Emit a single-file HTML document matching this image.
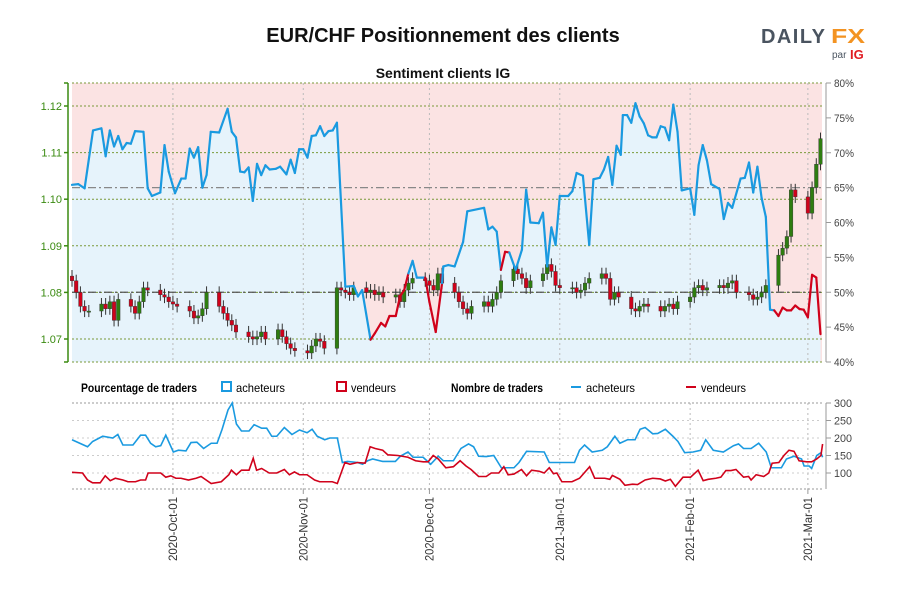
<!DOCTYPE html>
<html><head><meta charset="utf-8"><style>
body{margin:0;background:#fff;width:900px;height:600px;overflow:hidden}
svg text{font-family:"Liberation Sans",sans-serif}
</style></head><body>
<svg id="c" width="900" height="600" xmlns="http://www.w3.org/2000/svg">
<text x="443" y="42" text-anchor="middle" font-size="20" font-weight="bold" fill="#111">EUR/CHF Positionnement des clients</text>
<g>
<text x="761" y="43" font-size="20" font-weight="bold" fill="#4a5460" textLength="64" lengthAdjust="spacing">DAILY</text>
<text x="831" y="43" font-size="20" font-weight="bold" fill="#f39322" textLength="34" lengthAdjust="spacingAndGlyphs">FX</text>
<text x="832" y="58" font-size="10" fill="#4a5460">par</text>
<text x="850" y="59" font-size="13" font-weight="bold" fill="#e01b22">IG</text>
</g>
<text x="443" y="78" text-anchor="middle" font-size="14" font-weight="bold" fill="#111">Sentiment clients IG</text>
<g id="main"></g>
<g id="legend" font-size="12">
<text x="81" y="392" font-weight="bold" textLength="116" lengthAdjust="spacingAndGlyphs">Pourcentage de traders</text>
<rect x="222" y="382" width="9" height="9" fill="none" stroke="#1a9ae0" stroke-width="2"/>
<text x="236" y="392" textLength="49" lengthAdjust="spacingAndGlyphs">acheteurs</text>
<rect x="337" y="382" width="9" height="9" fill="none" stroke="#d0021b" stroke-width="2"/>
<text x="351" y="392" textLength="45" lengthAdjust="spacingAndGlyphs">vendeurs</text>
<text x="451" y="392" font-weight="bold" textLength="92" lengthAdjust="spacingAndGlyphs">Nombre de traders</text>
<line x1="571" y1="387" x2="581" y2="387" stroke="#1a9ae0" stroke-width="2"/>
<text x="586" y="392" textLength="49" lengthAdjust="spacingAndGlyphs">acheteurs</text>
<line x1="686" y1="387" x2="696" y2="387" stroke="#d0021b" stroke-width="2"/>
<text x="701" y="392" textLength="45" lengthAdjust="spacingAndGlyphs">vendeurs</text>
</g>
<g id="bot"></g>
</svg>
<script>
const monthLabels=["2020-Oct-01","2020-Nov-01","2020-Dec-01","2021-Jan-01","2021-Feb-01","2021-Mar-01"];
const monthDays=[24,55,85,116,147,175];
const pctTicks=[80,75,70,65,60,55,50,45,40];
const priceTicks=[1.07,1.08,1.09,1.10,1.11,1.12];
const countTicks=[300,250,200,150,100];
const closes=[1.0825,1.0800,1.0770,1.0760,1.0760,1.0775,1.0765,1.0780,1.0740,1.0785,1.0770,1.0755,1.0780,1.0810,1.0805,1.0795,1.0790,1.0780,1.0775,1.0770,1.0760,1.0745,1.0750,1.0765,1.0800,1.0770,1.0755,1.0740,1.0730,1.0715,1.0705,1.0700,1.0705,1.0715,1.0700,1.0720,1.0705,1.0690,1.0680,1.0675,1.0670,1.0685,1.0700,1.0695,1.0680,1.0810,1.0805,1.0800,1.0795,1.0810,1.0800,1.0805,1.0795,1.0800,1.0790,1.0795,1.0780,1.0805,1.0820,1.0830,1.0825,1.0815,1.0805,1.0840,1.0820,1.0800,1.0780,1.0765,1.0755,1.0770,1.0780,1.0770,1.0785,1.0800,1.0825,1.0850,1.0840,1.0830,1.0810,1.0825,1.0840,1.0860,1.0845,1.0815,1.0810,1.0810,1.0800,1.0805,1.0820,1.0830,1.0840,1.0830,1.0785,1.0800,1.0790,1.0765,1.0760,1.0770,1.0775,1.0770,1.0760,1.0770,1.0775,1.0765,1.0780,1.0790,1.0810,1.0815,1.0805,1.0810,1.0815,1.0810,1.0820,1.0825,1.0800,1.0795,1.0785,1.0790,1.0800,1.0815,1.0880,1.0895,1.0920,1.1020,1.1005,1.0970,1.1025,1.1075,1.1130];
const firstOpen=1.0835;
const sentDays=[0,1.5,3,5,7,8,9,10,11,12,13,14,15,17,18,19,21,22,23,24.5,26,27,28,29,30,31,32,33,35,37,38,39,40,41,42,43,44,45,46,47,48.5,49.5,51,52,53,54,55,56,57,58,59,60,61,62,63,65,67,68,69,71,72,73.5,74.5,75.5,77,78,79,80,81,82,84,85,86.5,88,88.3,89.5,91,93,94,98,99,100,101,102,103,104,105.5,107,108,109,111,112,113,114,115,116,118,119,120,121.5,123,124,125.5,126.5,127.5,128.5,129.5,130.5,131,132,133,134,135,136,137,138,139,140,141,142,143,144,145,147,148,149,150,151,152,154,155,156,157,159,160,161,162,163,164,165,166,167,168,169,170,171,172,173,174,175,176,177,178];
const sentPct=[65.4,65.5,64.9,73.2,73.5,69.5,73.2,70.9,72.4,70.5,71.4,71.3,73.1,73.0,64.9,63.8,64.3,71.1,67.3,64.2,66.3,66.3,70.6,69.3,70.8,65.0,66.8,73.0,72.9,76.3,73.0,72.2,67.3,67.2,67.9,63.1,68.4,66.8,68.2,67.6,67.7,68.0,66.9,69.0,67.1,70.5,70.5,69.3,72.4,72.5,73.8,72.4,73.1,73.2,74.3,50.8,50.9,49.4,50.3,43.2,44.1,45.6,45.1,46.6,46.6,49.4,50.3,52.7,54.5,52.1,52.1,48.6,44.3,51.3,53.7,53.9,53.7,57.2,61.6,62.1,59.0,59.4,58.7,53.2,55.8,55.7,53.2,56.1,64.7,60.0,59.9,61.4,53.7,59.3,56.8,63.8,63.8,64.5,67.1,66.7,56.8,66.2,66.4,67.6,69.4,65.4,71.0,69.7,75.4,75.4,74.3,77.1,75.2,74.2,72.5,72.2,72.2,73.8,73.6,71.8,76.9,73.0,64.6,64.9,61.1,68.2,71.1,68.9,65.5,64.8,60.5,62.8,62.1,66.3,66.4,68.6,64.3,68.0,63.5,60.8,47.5,47.4,46.6,47.8,47.4,47.4,48.1,47.6,47.5,46.4,52.5,52.1,44.0];
const sentSide=["B","B","B","B","B","B","B","B","B","B","B","B","B","B","B","B","B","B","B","B","B","B","B","B","B","B","B","B","B","B","B","B","B","B","B","B","B","B","B","B","B","B","B","B","B","B","B","B","B","B","B","B","B","B","B","B","B","B","B","B","S","S","S","S","S","S","S","S","B","B","B","S","S","S","B","B","B","B","B","B","B","B","B","B","S","S","B","B","B","B","B","B","B","B","B","B","B","B","B","B","B","B","B","B","B","B","B","B","B","B","B","B","B","B","B","B","B","B","B","B","B","B","B","B","B","B","B","B","B","B","B","B","B","B","B","B","B","B","B","B","B","B","S","S","S","S","S","S","S","S","S","S","S","B"];
const buyDays=[0,3.7,4.9,7.3,9.7,10.9,12.1,14.5,16.3,17.5,18.7,19.9,21.1,22.3,24.1,25.3,27.1,28.3,29.7,31.3,33.1,34.5,35.7,37.1,38.1,39.1,40.3,42.1,43.3,45.1,46.3,47.5,48.7,50.5,52.3,54.1,55.9,57.1,58.3,60.1,61.3,63.1,64.3,65.5,67.9,69.1,70.3,71.5,73.9,76.9,78.1,79.9,81.1,83.5,85.3,87.1,88.3,90.7,92.5,94.3,95.5,96.7,98.5,100.3,102.1,105.1,106.3,108.1,112.3,113.5,115.3,119.5,120.7,121.9,123.7,126.1,127.3,129.1,130.3,132.1,133.9,135.1,136.3,138.1,139.3,141.1,142.9,144.1,145.7,147.7,149.5,150.7,152.5,154.9,157.3,158.5,159.7,161.5,163.3,165.1,166.3,168.7,169.9,171.7,173.5,174.1,175.3,175.9,177.1,178.1,178.5];
const buyVals=[195,175,190,205,200,210,180,180,208,208,185,175,178,208,160,165,163,187,188,170,185,185,225,280,300,240,220,220,238,228,228,205,205,230,210,223,215,225,205,195,200,200,130,133,130,125,135,140,133,133,148,160,145,145,125,148,135,135,170,183,175,148,147,150,115,115,130,162,160,130,130,130,165,180,160,165,175,205,185,195,195,225,230,212,213,225,205,190,158,160,165,195,165,160,178,183,170,170,185,160,115,115,140,148,140,120,120,113,150,158,145];
const sellDays=[0,2.5,3.7,4.9,6.7,7.9,9.1,10.3,12.1,13.3,15.1,16.3,17.5,18.1,21.1,22.3,23.5,24.7,25.9,27.7,29.5,30.7,31.9,33.1,35.5,37.3,37.9,39.1,40.3,42.1,43.1,43.9,45.1,46.9,48.7,50.5,51.7,52.9,54.1,55.9,57.7,58.9,61.9,63.1,64.9,66.1,67.9,69.7,70.9,72.1,73.9,75.1,77.5,79.9,81.7,83.5,84.7,85.9,87.1,88.9,90.7,92.3,93.7,94.9,96.7,98.5,99.7,101.5,102.7,103.7,105.1,106.9,108.1,109.3,111.1,112.3,113.5,114.5,115.3,116.5,118.9,120.7,123.1,124.3,126.7,127.9,128.5,130.3,131.5,133.3,134.5,136.3,138.1,139.9,141.1,142.3,143.5,145.3,147.1,148.9,150.1,151.3,153.1,154.3,155.5,156.7,157.9,159.7,160.9,161.5,162.7,164.5,165.7,166.5,168.1,169.3,170.5,171.7,172.9,174.7,175.9,177.1,178.1,178.5];
const sellVals=[102,100,80,72,72,92,78,85,80,75,75,80,80,100,100,88,92,85,85,80,85,90,80,70,75,95,108,95,108,108,142,108,113,100,100,110,95,103,95,95,80,75,75,70,130,125,130,128,175,170,165,152,150,145,135,132,132,150,140,115,118,135,120,110,90,90,100,100,118,95,97,110,92,108,105,100,115,98,100,75,75,85,118,85,85,82,93,82,65,68,67,80,85,83,77,82,62,88,88,108,78,82,85,88,107,107,110,88,90,80,95,90,100,128,130,150,165,162,135,132,132,140,150,183];

const NS="http://www.w3.org/2000/svg";
const X0=72,X1=822,DPX=4.205;
const xDay=d=>X0+d*DPX;
const yPct=p=>83+(80-p)*6.975;
const yPrice=v=>106+(1.12-v)*4660;
const yCnt=v=>473-(v-100)*0.35;
function mk(tag,attrs,parent){const e=document.createElementNS(NS,tag);for(const k in attrs)e.setAttribute(k,attrs[k]);parent.appendChild(e);return e;}
const main=document.getElementById('main'),bot=document.getElementById('bot');
let bg=mk('rect',{x:X0,y:83,width:X1-X0,height:279,fill:'#fbe3e3'},main);


let pts=sentDays.map((d,i)=>xDay(d)+','+yPct(sentPct[i]));
let area=mk('polygon',{points:xDay(sentDays[0])+',362 '+pts.join(' ')+' '+xDay(sentDays[sentDays.length-1])+',362',fill:'#e6f3fb'},main);


priceTicks.forEach(v=>{const l=mk('line',{x1:X0,x2:X1,y1:yPrice(v),y2:yPrice(v),stroke:'#7a9a3a','stroke-dasharray':'2,2','stroke-width':1},main);

});
[83,362].forEach(y=>{const l=mk('line',{x1:X0,x2:X1,y1:y,y2:y,stroke:'#7a9a3a','stroke-dasharray':'2,2'},main);

});
monthDays.forEach(d=>{const l=mk('line',{x1:xDay(d),x2:xDay(d),y1:83,y2:362,stroke:'#bbb','stroke-dasharray':'2,3'},main);


const l2=mk('line',{x1:xDay(d),x2:xDay(d),y1:403,y2:489,stroke:'#bbb','stroke-dasharray':'2,3'},bot);

});
let r50=mk('line',{x1:X0,x2:X1,y1:yPct(50),y2:yPct(50),stroke:'#555','stroke-dasharray':'8,3,2,3','stroke-width':1.3},main);


let r65=mk('line',{x1:X0,x2:X1,y1:yPct(65),y2:yPct(65),stroke:'#888','stroke-dasharray':'8,3,2,3','stroke-width':1.2},main);


let prev=firstOpen;
closes.forEach((c,i)=>{const wk=Math.floor(i/5),dd=wk*7+(i%5);const x=xDay(dd);const o=prev;prev=c;
const hi=Math.max(o,c)+0.0013,lo=Math.min(o,c)-0.0013;const up=c>=o;
const w=mk('line',{x1:x,x2:x,y1:yPrice(hi),y2:yPrice(lo),stroke:'#333','stroke-width':1},main);


const b=mk('rect',{x:x-1.8,width:3.6,y:yPrice(Math.max(o,c)),height:Math.max(1.2,Math.abs(yPrice(o)-yPrice(c))),fill:up?'#2e7d10':'#d0021b',stroke:'#333','stroke-width':0.4},main);

});
for(let i=0;i<sentDays.length-1;i++){const s=mk('line',{x1:xDay(sentDays[i]),y1:yPct(sentPct[i]),x2:xDay(sentDays[i+1]),y2:yPct(sentPct[i+1]),stroke:sentSide[i+1]==='S'?'#d0021b':'#1a9ae0','stroke-width':2.2,'stroke-linecap':'round'},main);

}
let la=mk('line',{x1:68,x2:68,y1:83,y2:362,stroke:'#3a8a10','stroke-width':1.5},main);


[83,362].forEach(y=>{mk('line',{x1:64,x2:68,y1:y,y2:y,stroke:'#3a8a10','stroke-width':1.5},main);});
priceTicks.forEach(v=>{mk('line',{x1:64,x2:68,y1:yPrice(v),y2:yPrice(v),stroke:'#3a8a10','stroke-width':1.5},main);
const t=mk('text',{x:62,y:yPrice(v)+4,'text-anchor':'end','font-size':11,fill:'#3a8a10'},main);t.textContent=v.toFixed(2);

});
let ra=mk('line',{x1:826,x2:826,y1:83,y2:362,stroke:'#999'},main);


pctTicks.forEach(p=>{mk('line',{x1:826,x2:831,y1:yPct(p),y2:yPct(p),stroke:'#999'},main);
const t=mk('text',{x:834,y:yPct(p)+4,'font-size':11,fill:'#444',textLength:20,lengthAdjust:'spacingAndGlyphs'},main);t.textContent=p+'%';

});
[403,489].forEach(y=>{const l=mk('line',{x1:X0,x2:X1,y1:y,y2:y,stroke:'#999','stroke-dasharray':'2,2'},bot);

});
countTicks.slice(1).forEach(v=>{const l=mk('line',{x1:X0,x2:X1,y1:yCnt(v),y2:yCnt(v),stroke:'#ccc','stroke-dasharray':'2,3'},bot);

});
let ba=mk('line',{x1:826,x2:826,y1:403,y2:489,stroke:'#999'},bot);


countTicks.forEach(v=>{mk('line',{x1:826,x2:831,y1:yCnt(v),y2:yCnt(v),stroke:'#999'},bot);
const t=mk('text',{x:834,y:yCnt(v)+4,'font-size':11,fill:'#444',textLength:18,lengthAdjust:'spacingAndGlyphs'},bot);t.textContent=v;

});
let bl=mk('polyline',{points:buyDays.map((d,i)=>xDay(d)+','+yCnt(buyVals[i])).join(' '),fill:'none',stroke:'#1a9ae0','stroke-width':1.6},bot);


let sl=mk('polyline',{points:sellDays.map((d,i)=>xDay(d)+','+yCnt(sellVals[i])).join(' '),fill:'none',stroke:'#d0021b','stroke-width':1.6},bot);


monthDays.forEach((d,i)=>{const x=xDay(d);mk('line',{x1:x,x2:x,y1:489,y2:494,stroke:'#999'},bot);
const t=mk('text',{x:0,y:0,'text-anchor':'end','font-size':12,fill:'#333',textLength:64,lengthAdjust:'spacingAndGlyphs',transform:'translate('+(x+4)+',497) rotate(-90)'},bot);t.textContent=monthLabels[i];

});
</script>
</body></html>
